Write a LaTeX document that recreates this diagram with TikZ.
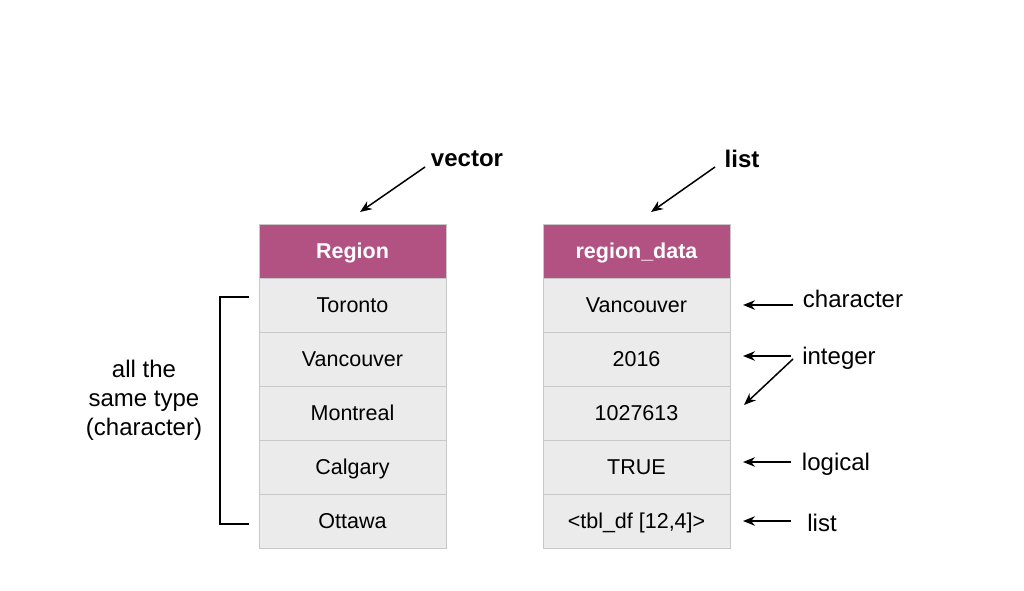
\documentclass[tikz,border=0pt]{standalone}
\usepackage{fontspec}
\setmainfont{Liberation Sans}
\usetikzlibrary{arrows.meta}
\definecolor{hdr}{HTML}{B25282}
\definecolor{cellfill}{HTML}{EBEBEB}
\definecolor{cellline}{HTML}{C8C8C8}
\tikzset{
  cell/.style={draw=cellline, line width=1pt, fill=cellfill, minimum width=187pt, minimum height=54pt, inner sep=0pt, text height=18pt, text depth=2.5pt, font=\fontsize{21.5}{25}\selectfont},
  hcell/.style={cell, fill=hdr, text=white, font=\fontsize{21.5}{25}\selectfont\bfseries},
  lbl/.style={inner sep=0pt, font=\fontsize{24}{29}\selectfont},
  blbl/.style={inner sep=0pt, font=\fontsize{24}{29}\selectfont\bfseries},
  arr/.style={-{Stealth[length=12pt,width=9.5pt]}, line width=1.5pt},
}
\begin{document}
\begin{tikzpicture}[x=1pt,y=-1pt]
\useasboundingbox (0,0) rectangle (1024,590);
% left column
\node[hcell] (h1) at (352.5,251) {Region};
\node[cell] (a1) at (352.5,305) {Toronto};
\node[cell] (a2) at (352.5,359) {Vancouver};
\node[cell] (a3) at (352.5,413) {Montreal};
\node[cell] (a4) at (352.5,467) {Calgary};
\node[cell] (a5) at (352.5,521) {Ottawa};
% right column
\node[hcell] (h2) at (636.5,251) {region\_data};
\node[cell] (b1) at (636.5,305) {Vancouver};
\node[cell] (b2) at (636.5,359) {2016};
\node[cell] (b3) at (636.5,413) {1027613};
\node[cell] (b4) at (636.5,467) {TRUE};
\node[cell] (b5) at (636.5,521) {<tbl\_df [12,4]>};
% top labels
\node[blbl] (vec) at (467,159) {vector};
\node[blbl] (lst) at (742,159) {list};
\coordinate (vs) at (425,167);
\coordinate (ve) at (360,212);
\coordinate (ls) at (715,167);
\coordinate (le) at (651,212);
\draw[arr] (vs) -- (ve);
\draw[arr] (ls) -- (le);
% right labels
\node[lbl] (tc) at (853,299) {character};
\node[lbl] (ti) at (839,358) {integer};
\node[lbl] (tl) at (836,464) {logical};
\node[lbl] (tli) at (822,523) {list};
\coordinate (c1s) at (793,305); \coordinate (c1e) at (743,305);
\coordinate (c2s) at (791,356); \coordinate (c2e) at (743,356);
\coordinate (c3s) at (793,359); \coordinate (c3e) at (744,405);
\coordinate (c4s) at (791,462); \coordinate (c4e) at (743,462);
\coordinate (c5s) at (791,521); \coordinate (c5e) at (743,521);
\draw[arr] (c1s) -- (c1e);
\draw[arr] (c2s) -- (c2e);
\draw[arr] (c3s) -- (c3e);
\draw[arr] (c4s) -- (c4e);
\draw[arr] (c5s) -- (c5e);
% bracket
\coordinate (bt) at (249,297);
\coordinate (bb) at (249,524);
\draw[line width=1.7pt] (bt) -- (220,297) -- (220,524) -- (bb);
\node[lbl, align=center, font=\fontsize{24}{29}\selectfont] (same) at (144,400) {all the\\same type\\(character)};
\end{tikzpicture}
\end{document}
